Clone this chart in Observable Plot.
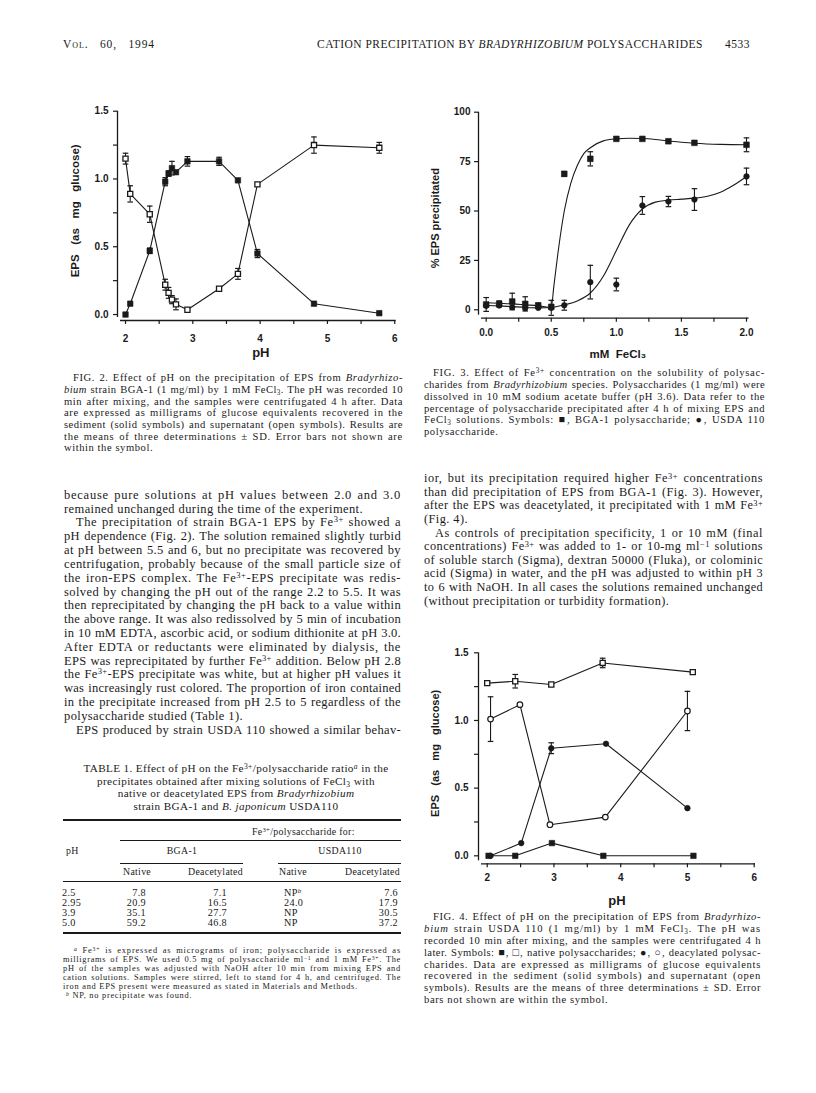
<!DOCTYPE html>
<html><head><meta charset="utf-8">
<script src="https://cdn.jsdelivr.net/npm/d3@7"></script>
<script src="https://cdn.jsdelivr.net/npm/@observablehq/plot@0.6"></script>
<style>
html,body{margin:0;padding:0;background:#fff;}
#page{position:relative;width:816px;height:1093px;overflow:hidden;background:#fff;font-family:"Liberation Serif","Times New Roman",serif;color:#1a1a1a;}
.ln{position:absolute;}
.j{text-align:justify;text-align-last:justify;}
sup{font-size:68%;line-height:0;vertical-align:0.42em;}
sub{font-size:68%;line-height:0;vertical-align:-0.22em;}
.rule{position:absolute;background:#1a1a1a;}
.chart{position:absolute;}
</style></head><body><div id="page"></div>
<script>
// ---------- Fig. 2 data (BGA-1, pH series) ----------
const fig2PH       = [2.00, 2.07, 2.36, 2.59, 2.64, 2.69, 2.75, 2.92, 3.39, 3.67, 3.96, 4.80, 5.77];
const fig2Solid    = [0.00, 0.08, 0.47, 0.98, 1.04, 1.08, 1.05, 1.13, 1.13, 0.99, 0.45, 0.08, 0.01];
const fig2SolidSD  = [0, 0, 0.02, 0.03, 0.02, 0.05, 0, 0.035, 0.03, 0, 0.03, 0, 0];
const fig2Open     = [1.15, 0.89, 0.74, 0.22, 0.16, 0.11, 0.075, 0.035, 0.19, 0.30, 0.96, 1.25, 1.23];
const fig2OpenSD   = [0.04, 0.06, 0.06, 0.04, 0.04, 0.03, 0.04, 0, 0, 0.04, 0, 0.06, 0.04];
const fig2XDomain  = [1.881, 6.02];
const fig2YDomain  = [-0.044, 1.5];
const fig2XTicks   = [2, 2.5, 3, 3.5, 4, 4.5, 5, 5.5, 6];
const fig2XLabels  = ["2", "", "3", "", "4", "", "5", "", "6"];
const fig2YTicks   = [0, 0.25, 0.5, 0.75, 1, 1.25, 1.5];
const fig2YLabels  = ["0.0", "", "0.5", "", "1.0", "", "1.5"];
const fig2YTitle   = "EPS\u00a0\u00a0\u00a0(as\u00a0\u00a0\u00a0mg\u00a0\u00a0\u00a0glucose)";
const fig2XTitle   = "pH";

// ---------- Fig. 3 data (% EPS precipitated vs mM FeCl3) ----------
const fig3Conc      = [0, 0.1, 0.2, 0.3, 0.4, 0.5, 0.6, 0.8, 1.0, 1.2, 1.4, 1.6, 2.0];
const fig3BGA1      = [2.7, 3.0, 4.2, 3.0, 2.2, 1.5, 68.8, 76.4, 86.5, 86.5, 85.3, 84.5, 83.5];
const fig3BGA1SD    = [3.5, 1.5, 4.2, 3.6, 1.2, 0, 1.2, 3.6, 0, 0, 0, 0, 3.5];
const fig3USDA      = [2.0, 2.2, 1.3, 0.8, 1.0, 1.0, 2.3, 14.0, 12.8, 52.8, 54.8, 55.8, 67.5];
const fig3USDASD    = [0, 0, 0, 0, 0, 3.8, 2.5, 8.5, 3.2, 4.5, 2.6, 5.5, 4.2];
const fig3BGA1CurveX = [0, 0.1, 0.2, 0.3, 0.4, 0.5, 0.52, 0.55, 0.6, 0.65, 0.7, 0.75, 0.8, 0.9, 1.0, 1.1, 1.2, 1.3, 1.4, 1.5, 1.6, 1.8, 2.0];
const fig3BGA1CurveY = [3.6, 3.3, 3.0, 2.5, 2.0, 1.2, 12, 28, 50, 64, 73, 79, 82, 85.5, 86.5, 86.8, 86.7, 86.2, 85.4, 84.8, 84.3, 83.7, 83.5];
const fig3USDACurveX = [0, 0.1, 0.2, 0.3, 0.4, 0.5, 0.6, 0.7, 0.8, 0.9, 1.0, 1.1, 1.2, 1.3, 1.4, 1.5, 1.6, 1.7, 1.8, 1.9, 2.0];
const fig3USDACurveY = [2.2, 2.0, 1.6, 1.2, 1.0, 1.2, 2.5, 4.5, 8.5, 17, 30, 43, 51, 54.5, 55.5, 56, 56.5, 57.5, 59.5, 63, 67.5];
const fig3XDomain  = [-0.059, 2.02];
const fig3YDomain  = [-4.25, 100];
const fig3XTicks   = [0, 0.25, 0.5, 0.75, 1, 1.25, 1.5, 1.75, 2];
const fig3XLabels  = ["0.0", "", "0.5", "", "1.0", "", "1.5", "", "2.0"];
const fig3YTicks   = [0, 25, 50, 75, 100];
const fig3YLabels  = ["0", "25", "50", "75", "100"];
const fig3YTitle   = "%\u00a0EPS\u00a0precipitated";
const fig3XTitle   = "mM\u00a0\u00a0FeCl\u2083";

// ---------- Fig. 4 data (USDA 110, pH series) ----------
const fig4NatOpenPH   = [2.00, 2.42, 2.96, 3.73, 5.08];
const fig4NatOpen     = [1.276, 1.29, 1.266, 1.425, 1.357];
const fig4NatOpenSD   = [0, 0.05, 0, 0.035, 0];
const fig4DeaOpenPH   = [2.05, 2.49, 2.94, 3.77, 5.00];
const fig4DeaOpen     = [1.01, 1.117, 0.23, 0.286, 1.07];
const fig4DeaOpenSD   = [0.165, 0, 0, 0, 0.145];
const fig4DeaSolidPH  = [2.05, 2.51, 2.96, 3.78, 5.00];
const fig4DeaSolid    = [0.0, 0.094, 0.795, 0.828, 0.352];
const fig4DeaSolidSD  = [0, 0, 0.04, 0, 0];
const fig4NatSolidPH  = [2.02, 2.42, 2.97, 3.74, 5.09];
const fig4NatSolid    = [0.0, 0.0, 0.094, 0.0, 0.0];
const fig4XDomain  = [1.8695, 6.02];
const fig4YDomain  = [-0.059, 1.5];
const fig4XTicks   = [2, 2.5, 3, 3.5, 4, 4.5, 5, 5.5, 6];
const fig4XLabels  = ["2", "", "3", "", "4", "", "5", "", "6"];
const fig4YTicks   = [0, 0.25, 0.5, 0.75, 1, 1.25, 1.5];
const fig4YLabels  = ["0.0", "", "0.5", "", "1.0", "", "1.5"];
const fig4YTitle   = "EPS\u00a0\u00a0\u00a0(as\u00a0\u00a0\u00a0mg\u00a0\u00a0\u00a0glucose)";
const fig4XTitle   = "pH";

// ---------- Table 1 ----------
const tablePH        = ["2.5", "2.95", "3.9", "5.0"];
const tableBGANative = ["7.8", "20.9", "35.1", "59.2"];
const tableBGADeac   = ["7.1", "16.5", "27.7", "46.8"];
const tableUSDANative= ["NP<sup><i>b</i></sup>", "24.0", "NP", "NP"];
const tableUSDADeac  = ["7.6", "17.9", "30.5", "37.2"];

// ---------- helpers ----------
const page = document.getElementById("page");
const INK = "#1a1a1a";
function measure(html, size, ls = 0) {
  const s = document.createElement("span");
  s.style.cssText = `position:absolute;left:0;top:0;white-space:nowrap;visibility:hidden;font-size:${size}px;letter-spacing:${ls}px`;
  s.innerHTML = html;
  page.appendChild(s);
  const w = s.getBoundingClientRect().width;
  const n = s.textContent.length;
  s.remove();
  return {w, n};
}
function put(html, x, yc, o = {}) {
  const size = o.size || 12, lh = Math.min(size * 1.1, o.lh || 99);
  const d = document.createElement("div");
  d.className = "ln";
  d.innerHTML = html;
  d.style.fontSize = size + "px";
  d.style.lineHeight = lh + "px";
  d.style.top = (yc - lh / 2) + "px";
  if (o.ls) d.style.letterSpacing = o.ls + "px";
  if (o.align === "r") { d.style.left = (x - 300) + "px"; d.style.width = "300px"; d.style.textAlign = "right"; }
  else if (o.align === "c") { d.style.left = (x - 250) + "px"; d.style.width = "500px"; d.style.textAlign = "center"; }
  else { d.style.left = x + "px"; }
  page.appendChild(d);
  d._ls = 0;
  if (o.w) {
    d.style.whiteSpace = "nowrap";
    const natural = d.getBoundingClientRect().width;
    const n = Math.max(1, d.textContent.length);
    if (natural > o.w - 0.3) {
      d.style.letterSpacing = ((o.ls || 0) + (o.w - natural) / n) + "px";
    } else {
      const ls = Math.min(o.lsMax || 0.9, (o.w - natural) * (o.lsFill || 0) / n);
      d._ls = ls;
      d.style.letterSpacing = ((o.ls || 0) + ls) + "px";
      if (o.justify) { d.style.whiteSpace = "normal"; d.classList.add("j"); }
    }
    d.style.width = o.w + "px";
  }
  return d;
}
// justified block: glyphs slightly tracked to fill the measure, rest by word spacing
function block(lines, x, w, y0, step, size, indent) {
  const used = [];
  lines.forEach(([html, mode], i) => {
    if (!mode.includes("j")) return;
    const ind = mode.includes("i") ? indent : 0;
    const d = put(html, x + ind, y0 + i * step, {size, lh: step, w: w - ind, justify: true, lsFill: 0.75});
    used.push(d._ls);
  });
  const ls = used.length ? used.reduce((a, b) => a + b, 0) / used.length : 0;
  lines.forEach(([html, mode], i) => {
    if (mode.includes("j")) return;
    const ind = mode.includes("i") ? indent : 0;
    put(html, x + ind, y0 + i * step, {size, lh: step, ls});
  });
  return ls;
}
function rule(x1, x2, y, t) {
  const d = document.createElement("div");
  d.className = "rule";
  Object.assign(d.style, {left: x1 + "px", width: (x2 - x1) + "px", top: (y - t / 2) + "px", height: t + "px"});
  page.appendChild(d);
}
function series(xs, ys, es) { return xs.map((x, i) => ({x, y: ys[i], e: es ? es[i] : 0})); }
const capSymbol = {draw(ctx, size) { const r = Math.sqrt(size / Math.PI); ctx.moveTo(-r, 0); ctx.lineTo(r, 0); }};
function errMarks(data, r = 2.8) {
  const d = data.filter(p => p.e > 0);
  return [
    Plot.ruleX(d, {x: "x", y1: p => p.y - p.e, y2: p => p.y + p.e, stroke: INK, strokeWidth: 1.1}),
    Plot.dot(d, {x: "x", y: p => p.y + p.e, symbol: capSymbol, r, stroke: INK, strokeWidth: 1.2, fill: "none"}),
    Plot.dot(d, {x: "x", y: p => p.y - p.e, symbol: capSymbol, r, stroke: INK, strokeWidth: 1.2, fill: "none"})
  ];
}
function axes(c) {
  return [
    Plot.ruleX([c.xDomain[0]], {stroke: INK, strokeWidth: 1.3, insetBottom: 3}),
    Plot.ruleY([c.yDomain[0]], {stroke: INK, strokeWidth: 1.3, insetLeft: 3}),
    Plot.axisX({ticks: c.xTicks, tickFormat: d => c.xLabels[c.xTicks.indexOf(d)], tickSize: 4, tickPadding: c.xPad, label: null, stroke: INK, strokeWidth: 1.2, fill: INK}),
    Plot.axisY({ticks: c.yTicks, tickFormat: d => c.yLabels[c.yTicks.indexOf(d)], tickSize: 4, tickPadding: c.yPad, label: null, stroke: INK, strokeWidth: 1.2, fill: INK}),
    Plot.text([c.yTitle], {text: d => d, frameAnchor: "left", textAnchor: "middle", lineAnchor: "middle", rotate: -90, dx: c.yTitleDx, dy: c.yTitleDy, fontSize: c.yTitleSize, fontWeight: "bold", fill: INK}),
    Plot.text([c.xTitle], {text: d => d, frameAnchor: "bottom", textAnchor: "middle", lineAnchor: "middle", dx: c.xTitleDx, dy: c.xTitleDy, fontSize: c.xTitleSize, fontWeight: "bold", fill: INK})
  ];
}
const chartStyle = {fontFamily: "'Liberation Sans', Arial, sans-serif", fontSize: "10px", fontWeight: "bold", background: "transparent", overflow: "visible", color: INK};
function place(svg, left, top) {
  const w = document.createElement("div");
  w.className = "chart";
  w.style.left = left + "px"; w.style.top = top + "px";
  w.appendChild(svg);
  page.appendChild(w);
}

// ---------- Fig. 2 ----------
const f2S = series(fig2PH, fig2Solid, fig2SolidSD);
const f2O = series(fig2PH, fig2Open, fig2OpenSD);
place(Plot.plot({
  width: 345, height: 270, marginLeft: 57, marginRight: 9.4, marginTop: 15.7, marginBottom: 45,
  x: {domain: fig2XDomain}, y: {domain: fig2YDomain}, style: chartStyle,
  marks: [
    ...axes({xDomain: fig2XDomain, yDomain: fig2YDomain, xTicks: fig2XTicks, xLabels: fig2XLabels, yTicks: fig2YTicks, yLabels: fig2YLabels,
             xPad: 10, yPad: 5, yTitle: fig2YTitle, xTitle: fig2XTitle, yTitleDx: -42, yTitleDy: -5, xTitleDx: 4, xTitleDy: 32, yTitleSize: 11.5, xTitleSize: 13}),
    Plot.line(f2S, {x: "x", y: "y", stroke: INK, strokeWidth: 1.1}),
    Plot.line(f2O, {x: "x", y: "y", stroke: INK, strokeWidth: 1.1}),
    ...errMarks(f2S), ...errMarks(f2O),
    Plot.dot(f2S, {x: "x", y: "y", symbol: "square", r: 3.1, fill: INK, stroke: INK, strokeWidth: 0.6}),
    Plot.dot(f2O, {x: "x", y: "y", symbol: "square", r: 2.9, fill: "white", stroke: INK, strokeWidth: 1.3})
  ]
}), 60, 95);

// ---------- Fig. 3 ----------
const f3B = series(fig3Conc, fig3BGA1, fig3BGA1SD);
const f3U = series(fig3Conc, fig3USDA, fig3USDASD);
const f3BC = series(fig3BGA1CurveX, fig3BGA1CurveY);
const f3UC = series(fig3USDACurveX, fig3USDACurveY);
place(Plot.plot({
  width: 340, height: 270, marginLeft: 58, marginRight: 11.4, marginTop: 16.7, marginBottom: 47.3,
  x: {domain: fig3XDomain}, y: {domain: fig3YDomain}, style: chartStyle,
  marks: [
    ...axes({xDomain: fig3XDomain, yDomain: fig3YDomain, xTicks: fig3XTicks, xLabels: fig3XLabels, yTicks: fig3YTicks, yLabels: fig3YLabels,
             xPad: 6.5, yPad: 4, yTitle: fig3YTitle, xTitle: fig3XTitle, yTitleDx: -43, yTitleDy: 3, xTitleDx: 4, xTitleDy: 36, yTitleSize: 11, xTitleSize: 11.5}),
    Plot.line(f3BC, {x: "x", y: "y", curve: "monotone-x", stroke: INK, strokeWidth: 1.1}),
    Plot.line(f3UC, {x: "x", y: "y", curve: "monotone-x", stroke: INK, strokeWidth: 1.1}),
    ...errMarks(f3B), ...errMarks(f3U),
    Plot.dot(f3B, {x: "x", y: "y", symbol: "square", r: 3.2, fill: INK, stroke: INK, strokeWidth: 0.6}),
    Plot.dot(f3U, {x: "x", y: "y", r: 2.8, fill: INK, stroke: INK, strokeWidth: 0.6})
  ]
}), 420, 95);

// ---------- Fig. 4 ----------
const f4NO = series(fig4NatOpenPH, fig4NatOpen, fig4NatOpenSD);
const f4DO = series(fig4DeaOpenPH, fig4DeaOpen, fig4DeaOpenSD);
const f4DS = series(fig4DeaSolidPH, fig4DeaSolid, fig4DeaSolidSD);
const f4NS = series(fig4NatSolidPH, fig4NatSolid);
place(Plot.plot({
  width: 340, height: 275, marginLeft: 58, marginRight: 5, marginTop: 17.3, marginBottom: 46.7,
  x: {domain: fig4XDomain}, y: {domain: fig4YDomain}, style: chartStyle,
  marks: [
    ...axes({xDomain: fig4XDomain, yDomain: fig4YDomain, xTicks: fig4XTicks, xLabels: fig4XLabels, yTicks: fig4YTicks, yLabels: fig4YLabels,
             xPad: 6, yPad: 6, yTitle: fig4YTitle, xTitle: fig4XTitle, yTitleDx: -43, yTitleDy: -5, xTitleDx: 0, xTitleDy: 37, yTitleSize: 11, xTitleSize: 13}),
    Plot.line(f4NO, {x: "x", y: "y", stroke: INK, strokeWidth: 1.1}),
    Plot.line(f4DO, {x: "x", y: "y", stroke: INK, strokeWidth: 1.1}),
    Plot.line(f4DS, {x: "x", y: "y", stroke: INK, strokeWidth: 1.1}),
    Plot.line(f4NS, {x: "x", y: "y", stroke: INK, strokeWidth: 1.1}),
    ...errMarks(f4NO), ...errMarks(f4DO), ...errMarks(f4DS),
    Plot.dot(f4NS, {x: "x", y: "y", symbol: "square", r: 3.1, fill: INK, stroke: INK, strokeWidth: 0.6}),
    Plot.dot(f4DS, {x: "x", y: "y", r: 2.8, fill: INK, stroke: INK, strokeWidth: 0.6}),
    Plot.dot(f4NO, {x: "x", y: "y", symbol: "square", r: 2.9, fill: "white", stroke: INK, strokeWidth: 1.3}),
    Plot.dot(f4DO, {x: "x", y: "y", r: 2.8, fill: "white", stroke: INK, strokeWidth: 1.2})
  ]
}), 420, 635);

// ---------- page text ----------
const headTitle = 'CATION PRECIPITATION BY <i>BRADYRHIZOBIUM</i> POLYSACCHARIDES';
const headSize = 11.5;
const hm = measure(headTitle, headSize);
const headLs = (386 - hm.w) / hm.n;
put('<span style="font-variant:small-caps">Vol.</span> 60, 1994', 63, 44, {size: headSize, w: 92, justify: true, lsFill: 0.5});
put(headTitle, 317, 44, {size: headSize, ls: headLs});
put('4533', 750, 44, {size: headSize, align: "r", ls: headLs});

block([
  ['FIG. 2. Effect of pH on the precipitation of EPS from <i>Bradyrhizo-</i>', 'ij'],
  ['<i>bium</i> strain BGA-1 (1 mg/ml) by 1 mM FeCl<sub>3</sub>. The pH was recorded 10', 'j'],
  ['min after mixing, and the samples were centrifugated 4 h after. Data', 'j'],
  ['are expressed as milligrams of glucose equivalents recovered in the', 'j'],
  ['sediment (solid symbols) and supernatant (open symbols). Results are', 'j'],
  ['the means of three determinations ± SD. Error bars not shown are', 'j'],
  ['within the symbol.', 'l']
], 64, 339, 378, 11.7, 10.6, 9);

block([
  ['because pure solutions at pH values between 2.0 and 3.0', 'j'],
  ['remained unchanged during the time of the experiment.', 'l'],
  ['The precipitation of strain BGA-1 EPS by Fe<sup>3+</sup> showed a', 'ij'],
  ['pH dependence (Fig. 2). The solution remained slightly turbid', 'j'],
  ['at pH between 5.5 and 6, but no precipitate was recovered by', 'j'],
  ['centrifugation, probably because of the small particle size of', 'j'],
  ['the iron-EPS complex. The Fe<sup>3+</sup>-EPS precipitate was redis-', 'j'],
  ['solved by changing the pH out of the range 2.2 to 5.5. It was', 'j'],
  ['then reprecipitated by changing the pH back to a value within', 'j'],
  ['the above range. It was also redissolved by 5 min of incubation', 'j'],
  ['in 10 mM EDTA, ascorbic acid, or sodium dithionite at pH 3.0.', 'j'],
  ['After EDTA or reductants were eliminated by dialysis, the', 'j'],
  ['EPS was reprecipitated by further Fe<sup>3+</sup> addition. Below pH 2.8', 'j'],
  ['the Fe<sup>3+</sup>-EPS precipitate was white, but at higher pH values it', 'j'],
  ['was increasingly rust colored. The proportion of iron contained', 'j'],
  ['in the precipitate increased from pH 2.5 to 5 regardless of the', 'j'],
  ['polysaccharide studied (Table 1).', 'l'],
  ['EPS produced by strain USDA 110 showed a similar behav-', 'ij']
], 64, 337, 495.7, 13.82, 12.5, 12);

// Table title
const tableTitle = [
  'TABLE 1. Effect of pH on the Fe<sup>3+</sup>/polysaccharide ratio<sup><i>a</i></sup> in the',
  'precipitates obtained after mixing solutions of FeCl<sub>3</sub> with',
  'native or deacetylated EPS from <i>Bradyrhizobium</i>',
  'strain BGA-1 and <i>B. japonicum</i> USDA110'
];
const ttSize = 11.2;
const ttm = measure(tableTitle[0], ttSize);
const ttLs = Math.max(0, (305 - ttm.w) / ttm.n);
tableTitle.forEach((t, i) => put(t, 236, 768.3 + i * 12.6, {size: ttSize, ls: ttLs, align: "c", lh: 12.6}));

// Table body
const thSize = 9.8;
const thm = measure('Deacetylated', thSize);
const thLs = Math.max(0, (55 - thm.w) / thm.n);
const cellSize = 10.2;
const cellLs = 0.35;
rule(63, 401, 820, 1.6);
put('Fe<sup>3+</sup>/polysaccharide for:', 252, 832.7, {size: thSize, ls: thLs});
rule(120, 401, 840.7, 0.9);
put('pH', 66, 851.7, {size: thSize, ls: thLs});
put('BGA-1', 182, 851.7, {size: thSize, ls: thLs, align: "c"});
put('USDA110', 340, 851.7, {size: thSize, ls: thLs, align: "c"});
rule(120, 243, 863, 0.9);
rule(278, 401, 863, 0.9);
put('Native', 123, 872.5, {size: thSize, ls: thLs});
put('Deacetylated', 188, 872.5, {size: thSize, ls: thLs});
put('Native', 279, 872.5, {size: thSize, ls: thLs});
put('Deacetylated', 345, 872.5, {size: thSize, ls: thLs});
rule(63, 401, 881.7, 0.9);
tablePH.forEach((v, i) => {
  const y = 893 + i * 9.8, o = {size: cellSize, ls: cellLs, lh: 9.8};
  put(v, 62, y, o);
  put(tableBGANative[i], 146, y, {...o, align: "r"});
  put(tableBGADeac[i], 227, y, {...o, align: "r"});
  put(tableUSDANative[i], 284, y, o);
  put(tableUSDADeac[i], 398, y, {...o, align: "r"});
});
rule(63, 401, 933, 1.6);

const fnLs = block([
  ['<sup><i>a</i></sup> Fe<sup>3+</sup> is expressed as micrograms of iron; polysaccharide is expressed as', 'ij'],
  ['milligrams of EPS. We used 0.5 mg of polysaccharide ml<sup>−1</sup> and 1 mM Fe<sup>3+</sup>. The', 'j'],
  ['pH of the samples was adjusted with NaOH after 10 min from mixing EPS and', 'j'],
  ['cation solutions. Samples were stirred, left to stand for 4 h, and centrifuged. The', 'j'],
  ['iron and EPS present were measured as stated in Materials and Methods.', 'l']
], 63, 338, 950, 9, 8.4, 11);
put('<sup><i>b</i></sup> NP, no precipitate was found.', 66, 995, {size: 8.4, ls: fnLs, lh: 9});

// Right column
block([
  ['FIG. 3. Effect of Fe<sup>3+</sup> concentration on the solubility of polysac-', 'ij'],
  ['charides from <i>Bradyrhizobium</i> species. Polysaccharides (1 mg/ml) were', 'j'],
  ['dissolved in 10 mM sodium acetate buffer (pH 3.6). Data refer to the', 'j'],
  ['percentage of polysaccharide precipitated after 4 h of mixing EPS and', 'j'],
  ['FeCl<sub>3</sub> solutions. Symbols: ■, BGA-1 polysaccharide; ●, USDA 110', 'j'],
  ['polysaccharide.', 'l']
], 424, 341, 373, 11.8, 10.6, 9);

block([
  ['ior, but its precipitation required higher Fe<sup>3+</sup> concentrations', 'j'],
  ['than did precipitation of EPS from BGA-1 (Fig. 3). However,', 'j'],
  ['after the EPS was deacetylated, it precipitated with 1 mM Fe<sup>3+</sup>', 'j'],
  ['(Fig. 4).', 'l'],
  ['As controls of precipitation specificity, 1 or 10 mM (final', 'ij'],
  ['concentrations) Fe<sup>3+</sup> was added to 1- or 10-mg ml<sup>−1</sup> solutions', 'j'],
  ['of soluble starch (Sigma), dextran 50000 (Fluka), or colominic', 'j'],
  ['acid (Sigma) in water, and the pH was adjusted to within pH 3', 'j'],
  ['to 6 with NaOH. In all cases the solutions remained unchanged', 'j'],
  ['(without precipitation or turbidity formation).', 'l']
], 424, 339, 479, 13.6, 12.3, 11);

block([
  ['FIG. 4. Effect of pH on the precipitation of EPS from <i>Bradyrhizo-</i>', 'ij'],
  ['<i>bium</i> strain USDA 110 (1 mg/ml) by 1 mM FeCl<sub>3</sub>. The pH was', 'j'],
  ['recorded 10 min after mixing, and the samples were centrifugated 4 h', 'j'],
  ['later. Symbols: ■, □, native polysaccharides; ●, ○, deacylated polysac-', 'j'],
  ['charides. Data are expressed as milligrams of glucose equivalents', 'j'],
  ['recovered in the sediment (solid symbols) and supernatant (open', 'j'],
  ['symbols). Results are the means of three determinations ± SD. Error', 'j'],
  ['bars not shown are within the symbol.', 'l']
], 424, 337, 917, 11.86, 10.6, 9);
</script></body></html>
